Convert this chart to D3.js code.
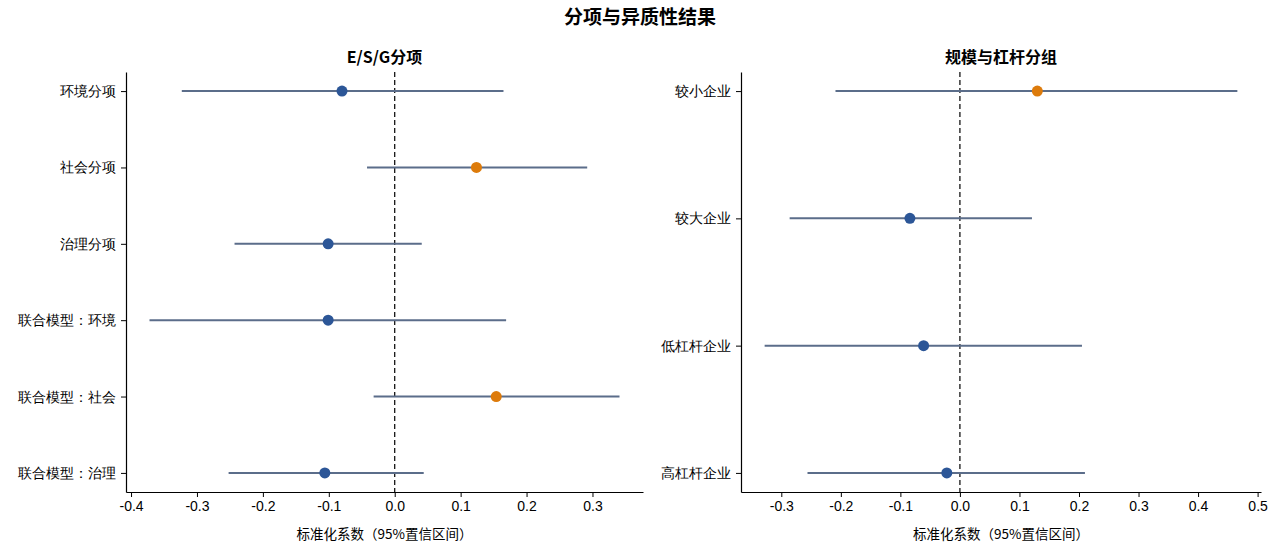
<!DOCTYPE html>
<html>
<head>
<meta charset="utf-8">
<script src="https://cdn.jsdelivr.net/npm/d3@7"></script>
<style>
  body { margin: 0; background: #fff; }
  svg { font-family: "Noto Sans CJK SC", "Noto Sans", sans-serif; }
  .tick text { font-size: 14px; fill: #000; }
  .domain, .tick line { stroke: #000; }
</style>
</head>
<body>
<svg id="chart" width="1280" height="548"></svg>
<script>
// ── Left panel: E/S/G components ──
const esgLabels = ["环境分项", "社会分项", "治理分项", "联合模型：环境", "联合模型：社会", "联合模型：治理"];
const esgCoef   = [-0.080, 0.124, -0.101, -0.101, 0.154, -0.106];
const esgLow    = [-0.323, -0.042, -0.243, -0.372, -0.032, -0.252];
const esgHigh   = [0.165, 0.292, 0.041, 0.169, 0.341, 0.044];
const esgTicks  = [-0.4, -0.3, -0.2, -0.1, 0.0, 0.1, 0.2, 0.3];

// ── Right panel: size & leverage groups ──
const grpLabels = ["较小企业", "较大企业", "低杠杆企业", "高杠杆企业"];
const grpCoef   = [0.130, -0.084, -0.061, -0.022];
const grpLow    = [-0.209, -0.286, -0.328, -0.256];
const grpHigh   = [0.466, 0.121, 0.205, 0.210];
const grpTicks  = [-0.3, -0.2, -0.1, 0.0, 0.1, 0.2, 0.3, 0.4, 0.5];

const posColor = "#dd7b0b";
const negColor = "#2c5697";
const ciColor = "#5b6d8a";

const svg = d3.select("#chart");

svg.append("text")
  .attr("x", 640).attr("y", 24)
  .attr("text-anchor", "middle")
  .attr("font-size", 19).attr("font-weight", "bold")
  .text("分项与异质性结果");

function panel(cfg) {
  const { labels, coef, low, high, ticks, left, right, title } = cfg;
  const top = 72, bottom = 492;

  const lo = d3.min(low), hi = d3.max(high);
  const pad = (hi - lo) * 0.05;
  const x = d3.scaleLinear().domain([lo - pad, hi + pad]).range([left, right]);
  const n = labels.length;
  const yPad = (n - 1) * 0.05;
  const y = d3.scaleLinear().domain([-yPad, n - 1 + yPad]).range([top, bottom]);

  const g = svg.append("g");

  // zero reference line
  g.append("line")
    .attr("x1", x(0)).attr("x2", x(0))
    .attr("y1", top).attr("y2", bottom)
    .attr("stroke", "#000").attr("stroke-width", 1.2)
    .attr("stroke-dasharray", "5,3");

  const rows = labels.map((l, i) => ({ label: l, c: coef[i], lo: low[i], hi: high[i], i }));

  g.selectAll(".ci").data(rows).join("line")
    .attr("class", "ci")
    .attr("x1", d => x(d.lo)).attr("x2", d => x(d.hi))
    .attr("y1", d => y(d.i)).attr("y2", d => y(d.i))
    .attr("stroke", ciColor).attr("stroke-width", 2);

  g.selectAll(".pt").data(rows).join("circle")
    .attr("class", "pt")
    .attr("cx", d => x(d.c)).attr("cy", d => y(d.i))
    .attr("r", 5.5)
    .attr("fill", d => d.c > 0 ? posColor : negColor);

  // axes
  g.append("g")
    .attr("transform", `translate(0,${bottom})`)
    .call(d3.axisBottom(x).tickValues(ticks).tickSizeOuter(0).tickSizeInner(5).tickPadding(4))
    .call(s => s.select(".domain").attr("stroke-width", 1.2))
    .call(s => s.selectAll(".tick text").text(d => d3.format(".1f")(d).replace("−", "-")));

  g.append("g")
    .attr("transform", `translate(${left},0)`)
    .call(d3.axisLeft(y).tickValues(d3.range(n)).tickFormat(i => labels[i]).tickSizeOuter(0).tickSizeInner(5).tickPadding(5))
    .call(s => s.select(".domain").attr("stroke-width", 1.2));

  g.append("text")
    .attr("x", (left + right) / 2).attr("y", 63)
    .attr("text-anchor", "middle")
    .attr("font-size", 16).attr("font-weight", "bold")
    .text(title);

  g.append("text")
    .attr("x", (left + right) / 2).attr("y", 539)
    .attr("text-anchor", "middle")
    .attr("font-size", 13.5)
    .text("标准化系数（95%置信区间）");
}

panel({ labels: esgLabels, coef: esgCoef, low: esgLow, high: esgHigh, ticks: esgTicks,
        left: 126, right: 643, title: "E/S/G分项" });
panel({ labels: grpLabels, coef: grpCoef, low: grpLow, high: grpHigh, ticks: grpTicks,
        left: 741, right: 1261, title: "规模与杠杆分组" });
</script>
</body>
</html>
